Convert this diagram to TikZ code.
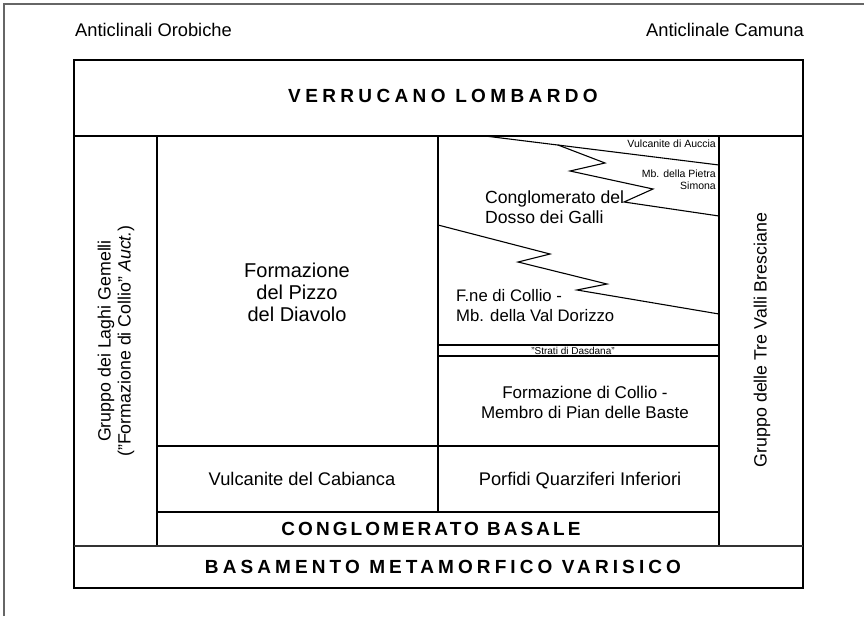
\documentclass[tikz,border=0pt]{standalone}
\usepackage{fontspec}
\setmainfont{Liberation Sans}
\usetikzlibrary{positioning}

\begin{document}
\begin{tikzpicture}[
		x=1pt, y=-1pt,
		box/.style={draw, line width=1.1pt},
		sep/.style={line width=1.1pt},
		heavy/.style={line width=2pt, black!80},
		lbl/.style={inner sep=0pt, align=center, font=\fontsize{18.3}{20}\selectfont},
		tiny/.style={inner sep=0pt, font=\fontsize{10.5}{12}\selectfont},
		caps/.style={inner sep=0pt, font=\fontsize{19}{20}\selectfont\bfseries\addfontfeature{LetterSpace=#1}},
	]
		\useasboundingbox (0,0) rectangle (864,616);
		\draw[line width=1.5pt, black!60] (4,616) -- (4,4) -- (864,4);

		\node[lbl, anchor=base west] (orob) at (75,36) {Anticlinali Orobiche};
		\node[lbl, anchor=base east] (camuna) at (804,36) {Anticlinale Camuna};

		\draw[box] (74,60) rectangle (803,588);
		\draw[sep] (74,136) -- (803,136);
		\draw[sep] (157,136) -- (157,546);
		\draw[sep] (719,136) -- (719,546);
		\draw[sep] (438,136) -- (438,512);
		\draw[sep] (157,446) -- (719,446);
		\draw[sep] (157,512) -- (719,512);
		\draw[heavy] (74,546) -- (803,546);
		\draw[sep] (438,345) -- (719,345);
		\draw[sep] (438,356) -- (719,356);

		\draw[sep] (485,136) -- (719,165);
		\draw[sep] (558,145) -- (605,163) -- (570,171) -- (653,189) -- (624,202) -- (719,216);
		\draw[sep] (438,225) -- (550,254) -- (518,262) -- (607,284) -- (577,290) -- (719,314);

		\node[caps=23] (verr) at (443,96) {VERRUCANO LOMBARDO};
		\node[caps=16] (cong) at (431,529) {CONGLOMERATO BASALE};
		\node[caps=21.6] (bas) at (443,567) {BASAMENTO METAMORFICO VARISICO};

		\node[lbl, rotate=90, font=\fontsize{17.8}{20}\selectfont] (laghi) at (116,341) {Gruppo dei Laghi Gemelli\\("Formazione di Collio" \textit{Auct.})};
		\node[lbl, rotate=90, font=\fontsize{17.8}{20}\selectfont] (trevalli) at (762,340) {Gruppo delle Tre Valli Bresciane};

		\node[lbl, font=\fontsize{20}{22}\selectfont] (pizzo) at (297,292) {Formazione\\del Pizzo\\del Diavolo};
		\node[lbl, anchor=base] (cabianca) at (302,485) {Vulcanite del Cabianca};
		\node[lbl, anchor=base] (porfidi) at (580,485) {Porfidi Quarziferi Inferiori};
		\node[lbl, font=\fontsize{17}{20}\selectfont] (pian) at (585,402) {Formazione di Collio -\\Membro di Pian delle Baste};
		\node[tiny, font=\fontsize{10}{10}\selectfont] (dasdana) at (573,350.5) {"Strati di Dasdana"};

		\node[tiny, anchor=east] (auccia) at (716,144) {Vulcanite di Auccia};
		\node[tiny, anchor=east, align=right] (pietra) at (716,180) {Mb. della Pietra\\Simona};
		\node[lbl, anchor=west, align=left, font=\fontsize{17.6}{20}\selectfont] (dosso) at (485,207) {Conglomerato del\\Dosso dei Galli};
		\node[lbl, anchor=west, align=left, font=\fontsize{16.7}{20}\selectfont] (dorizzo) at (456,306) {F.ne di Collio -\\Mb. della Val Dorizzo};
	\end{tikzpicture}
\end{document}
